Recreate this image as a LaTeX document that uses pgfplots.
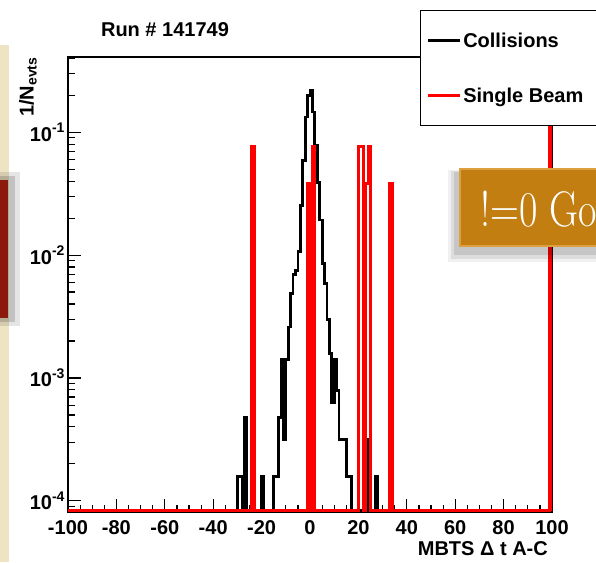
\documentclass[border=0pt]{standalone}
\usepackage{graphicx}
\usepackage{pgfplots}
\pgfplotsset{compat=1.18}
\usepackage{fontspec}
\newfontfamily\helv{Liberation Sans}
\definecolor{beige}{HTML}{EEE4C4}
\definecolor{darkred}{HTML}{8C1A0C}
\definecolor{wood}{HTML}{C27E10}
\definecolor{woodedge}{HTML}{DDA040}
\newcommand{\lf}{\helv\bfseries\fontsize{20}{24}\selectfont}
\begin{document}
\begin{tikzpicture}[x=1pt,y=1pt]
\useasboundingbox (0pt,0pt) rectangle (596pt,562pt);
\clip (0pt,0pt) rectangle (596pt,562pt);
\fill[white] (0pt,0pt) rectangle (596pt,562pt);
\fill[beige] (0pt,0pt) rectangle (9pt,517pt);
\fill[black,opacity=0.10] (0pt,236pt) rectangle (20pt,390pt);
\fill[black,opacity=0.15] (0pt,240pt) rectangle (15pt,386pt);
\fill[darkred] (0pt,244pt) rectangle (8pt,382pt);
\begin{axis}[
  at={(68pt,50pt)}, anchor=south west, scale only axis,
  width=484pt, height=455pt,
  xmin=-100, xmax=100,
  ymode=log, log basis y=10, ymin=8.1e-5, ymax=0.41,
  axis line style={line width=1.3pt},
  tick align=inside, xtick pos=bottom, ytick pos=left,
  major tick length=13pt, minor tick length=7pt,
  tick style={line width=1.2pt, black},
  xtick={-100,-80,...,100}, minor x tick num=3,
  xticklabels={-100,-80,-60,-40,-20,0,20,40,60,80,100},
  xticklabel style={yshift=-5pt},
  yticklabel={10\raisebox{0.42em}{\fontsize{14}{14}\selectfont\pgfmathparse{int(round(\tick))}\pgfmathresult}},
  tick label style={font=\lf},
  legend style={at={(0.7273,1.1033)}, anchor=north west, draw=black,
    line width=1.3pt, fill=white, font=\lf, inner xsep=6pt, inner ysep=20pt,
    row sep=35pt},
  legend cell align=left,
  legend image code/.code={\draw[#1,line width=2.6pt] (0pt,0pt) -- (32pt,0pt);},
]
\addplot[black, line width=2.8pt, const plot] coordinates {
(-100,8.3e-5) (-30,1.58e-4) (-28,8.3e-5) (-27,4.74e-4) (-26,8.3e-5)
(-20,1.58e-4) (-19,8.3e-5) (-15,1.58e-4) (-13,4.74e-4) (-12,1.42e-3)
(-11,3.16e-4) (-10,1.42e-3) (-9,2.6e-3) (-8,4.9e-3) (-7,6.9e-3)
(-6,7.5e-3) (-5,1.07e-2) (-4,2.55e-2) (-3,5.9e-2) (-2,0.133)
(-1,0.20) (0,0.22) (1,0.146) (2,0.078) (3,0.039) (4,0.0193)
(5,0.0086) (6,0.0059) (7,0.0030) (8,1.58e-3) (9,6.3e-4) (10,1.42e-3)
(11,7.9e-4) (12,3.16e-4) (15,1.58e-4) (17,8.3e-5) (23,3.16e-4)
(24,8.3e-5) (27,1.58e-4) (28,8.3e-5) (100,8.3e-5)
};
\addlegendentry{\makebox[150pt][l]{Collisions}}
\addplot[red, line width=3.1pt, const plot] coordinates {
(-100,8.3e-5) (-24,0.076) (-23,8.3e-5)
(-1,0.038) (-0.02,8.3e-5) (0,0.038) (0.98,8.3e-5) (1,0.076) (2,8.3e-5)
(20,0.076) (22,8.3e-5) (23,0.038) (24,0.076) (25,8.3e-5) (33,0.038)
(34,8.3e-5) (99,0.46) (100,0.46) (100,8.3e-5)
};
\addlegendentry{\makebox[150pt][l]{Single Beam}}
\end{axis}
\node[anchor=base, font=\lf, inner sep=0] at (165pt,525pt) {Run \# 141749};
\node[rotate=90, anchor=base east, font=\lf, inner sep=0] at (33.5pt,505pt) {1/N\textsubscript{evts}};
\node[anchor=base east, font=\lf, inner sep=0] at (548pt,7pt) {MBTS Δ t A-C};
\fill[black,opacity=0.06] (448pt,300pt) rectangle (600pt,392pt);
\fill[black,opacity=0.08] (451pt,303pt) rectangle (600pt,391pt);
\fill[black,opacity=0.10] (454pt,307pt) rectangle (600pt,390pt);
\filldraw[fill=wood, draw=woodedge, line width=2pt] (460pt,316pt) rectangle (610pt,393pt);
\node[anchor=base west, text=white, inner sep=0] at (480pt,335pt) {\fontsize{50}{50}\selectfont\scalebox{0.8}[1]{!=0 Go}};
\end{tikzpicture}
\end{document}
